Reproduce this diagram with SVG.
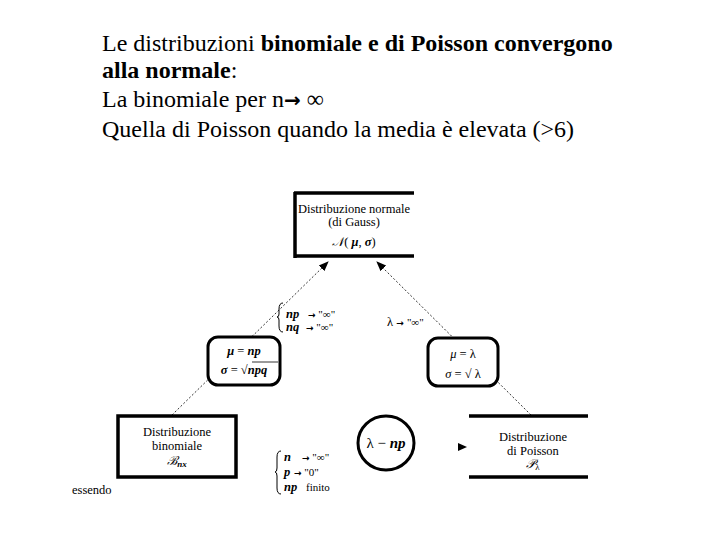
<svg xmlns="http://www.w3.org/2000/svg" width="720" height="540" viewBox="0 0 720 540">
<style>
.t{font-family:"Liberation Serif","Times New Roman",serif;fill:#000}
.head{font-size:24px}
.b{font-weight:bold}
.lbl{font-size:12.5px}
.sm{font-size:11px}
.m{font-style:italic;font-weight:bold}
.ar{font-family:"DejaVu Sans",sans-serif;font-weight:bold}
.thick{stroke:#000;stroke-width:3.5;fill:none}
.dot{stroke:#000;stroke-width:0.8;stroke-dasharray:2 2;fill:none}
.rb{fill:#fff;stroke:#000;stroke-width:3}
</style>
<defs>
<marker id="ah" viewBox="0 0 10 10" refX="9" refY="5" markerWidth="10" markerHeight="10" markerUnits="userSpaceOnUse" orient="auto">
<path d="M0,1 L10,5 L0,9 Z" fill="#000"/>
</marker>
</defs>
<rect width="720" height="540" fill="#fff"/>
<g id="title">
<text class="t head" x="102" y="51">Le distribuzioni <tspan class="b">binomiale e di Poisson convergono</tspan></text>
<text class="t head" x="102" y="78"><tspan class="b">alla normale</tspan>:</text>
<text class="t head" x="102" y="107">La binomiale per n<tspan class="ar" font-size="20">→</tspan> ∞</text>
<text class="t head" x="102" y="137">Quella di Poisson quando la media è elevata (&gt;6)</text>
</g>
<g id="connectors">
<line class="dot" x1="172" y1="415" x2="328" y2="262" marker-end="url(#ah)"/>
<line class="dot" x1="531" y1="415" x2="377" y2="262" marker-end="url(#ah)"/>
<path d="M458,443 L467,447 L458,451 Z" fill="#000"/>
</g>
<g id="normale">
<line class="thick" x1="294" y1="193" x2="414" y2="193"/>
<line class="thick" x1="294" y1="256" x2="414" y2="256"/>
<line class="thick" x1="295" y1="192" x2="295" y2="258"/>
<text class="t lbl" x="354" y="213" text-anchor="middle">Distribuzione normale</text>
<text class="t lbl" x="354" y="226" text-anchor="middle">(di Gauss)</text>
<text class="t lbl" x="354" y="246" text-anchor="middle"><tspan font-style="italic">𝒩</tspan>( <tspan class="m">μ</tspan>, <tspan class="m">σ</tspan>)</text>
</g>
<g id="cond-binom-normale">
<path d="M283,303 Q279,303 279,309 L279,314 Q279,317 277,317 Q279,317 279,320 L279,326 Q279,332 283,332" stroke="#000" stroke-width="1" fill="none"/>
<text class="t lbl m" x="286" y="318">np</text>
<text class="t sm" x="308" y="318"><tspan class="ar" font-size="9">→</tspan> "∞"</text>
<text class="t lbl m" x="286" y="331">nq</text>
<text class="t sm" x="306" y="331"><tspan class="ar" font-size="9">→</tspan> "∞"</text>
</g>
<g id="cond-poisson-normale">
<text class="t lbl" x="387" y="326">λ<tspan class="ar" font-size="9"> →</tspan> <tspan font-size="11">"∞"</tspan></text>
</g>
<g id="param-binom">
<rect class="rb" x="208" y="337" width="72" height="48" rx="10"/>
<text class="t lbl" x="244" y="355" text-anchor="middle"><tspan class="m">μ</tspan> = <tspan class="m">np</tspan></text>
<text class="t lbl" x="244" y="374" text-anchor="middle"><tspan class="m">σ</tspan> = √<tspan class="m">npq</tspan></text>
<line x1="252" y1="362" x2="278" y2="362" stroke="#000" stroke-width="0.8"/>
</g>
<g id="param-poisson">
<rect class="rb" x="428" y="338" width="70" height="48" rx="10"/>
<text class="t lbl" x="463" y="358" text-anchor="middle"><tspan font-style="italic">μ</tspan> = λ</text>
<text class="t lbl" x="463" y="378" text-anchor="middle"><tspan font-style="italic">σ</tspan> = √ λ</text>
</g>
<g id="binomiale">
<rect x="118" y="416" width="118" height="61" fill="#fff" stroke="#000" stroke-width="3.5"/>
<text class="t lbl" x="177" y="436" text-anchor="middle">Distribuzione</text>
<text class="t lbl" x="177" y="450" text-anchor="middle">binomiale</text>
<text class="t lbl" x="177" y="465" text-anchor="middle"><tspan font-style="italic">ℬ</tspan><tspan class="m" font-size="9" dy="2">nx</tspan></text>
</g>
<g id="poisson">
<line class="thick" x1="469" y1="416" x2="588" y2="416"/>
<line class="thick" x1="469" y1="477" x2="588" y2="477"/>
<text class="t lbl" x="533" y="441" text-anchor="middle">Distribuzione</text>
<text class="t lbl" x="533" y="455" text-anchor="middle">di Poisson</text>
<text class="t lbl" x="533" y="468" text-anchor="middle"><tspan font-style="italic">𝒫</tspan><tspan font-size="9" dy="2">λ</tspan></text>
</g>
<g id="lambda-np">
<ellipse cx="386" cy="443" rx="28" ry="27" fill="#fff" stroke="#000" stroke-width="3"/>
<text class="t" font-size="15" x="386" y="448" text-anchor="middle">λ − <tspan class="m">np</tspan></text>
</g>
<g id="cond-binom-poisson">
<path d="M281,451 Q277,451 277,457 L277,468 Q277,472 275,472 Q277,472 277,476 L277,488 Q277,494 281,494" stroke="#000" stroke-width="1" fill="none"/>
<text class="t lbl m" x="284" y="461">n</text>
<text class="t sm" x="302" y="461"><tspan class="ar" font-size="9">→</tspan> "∞"</text>
<text class="t lbl m" x="284" y="476">p</text>
<text class="t sm" x="294" y="476"><tspan class="ar" font-size="9">→</tspan> "0"</text>
<text class="t lbl m" x="284" y="491">np</text>
<text class="t sm" x="306" y="491">finito</text>
</g>
<g id="essendo">
<text class="t" font-size="12.5" x="72" y="494">essendo</text>
</g>
</svg>
